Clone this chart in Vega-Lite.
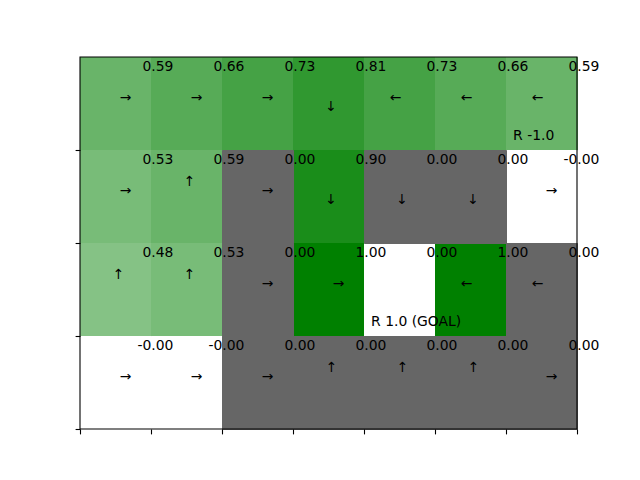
{
  "$schema": "https://vega.github.io/schema/vega-lite/v6.json",
  "width": 497,
  "height": 372,
  "autosize": {"type": "none"},
  "padding": {"left": 80, "top": 57, "right": 63, "bottom": 51},
  "background": "white",
  "config": {"view": {"stroke": null}, "font": "DejaVu Sans"},
  "resolve": {"axis": {"x": "independent", "y": "independent"}},
  "datasets": {
    "cells": [
      {"row": 0, "col": 0, "value": 0.59, "label": "0.59", "kind": "open", "arrow": "→"},
      {"row": 0, "col": 1, "value": 0.66, "label": "0.66", "kind": "open", "arrow": "→"},
      {"row": 0, "col": 2, "value": 0.73, "label": "0.73", "kind": "open", "arrow": "→"},
      {"row": 0, "col": 3, "value": 0.81, "label": "0.81", "kind": "open", "arrow": "↓"},
      {"row": 0, "col": 4, "value": 0.73, "label": "0.73", "kind": "open", "arrow": "←"},
      {"row": 0, "col": 5, "value": 0.66, "label": "0.66", "kind": "open", "arrow": "←"},
      {"row": 0, "col": 6, "value": 0.59, "label": "0.59", "kind": "open", "arrow": "←"},
      {"row": 1, "col": 0, "value": 0.53, "label": "0.53", "kind": "open", "arrow": "→"},
      {"row": 1, "col": 1, "value": 0.59, "label": "0.59", "kind": "open", "arrow": "↑"},
      {"row": 1, "col": 2, "value": 0.0, "label": "0.00", "kind": "wall", "arrow": "→"},
      {"row": 1, "col": 3, "value": 0.9, "label": "0.90", "kind": "open", "arrow": "↓"},
      {"row": 1, "col": 4, "value": 0.0, "label": "0.00", "kind": "wall", "arrow": "↓"},
      {"row": 1, "col": 5, "value": 0.0, "label": "0.00", "kind": "wall", "arrow": "↓"},
      {"row": 1, "col": 6, "value": 0.0, "label": "-0.00", "kind": "open", "arrow": "→"},
      {"row": 2, "col": 0, "value": 0.48, "label": "0.48", "kind": "open", "arrow": "↑"},
      {"row": 2, "col": 1, "value": 0.53, "label": "0.53", "kind": "open", "arrow": "↑"},
      {"row": 2, "col": 2, "value": 0.0, "label": "0.00", "kind": "wall", "arrow": "→"},
      {"row": 2, "col": 3, "value": 1.0, "label": "1.00", "kind": "open", "arrow": "→"},
      {"row": 2, "col": 4, "value": 0.0, "label": "0.00", "kind": "open", "arrow": ""},
      {"row": 2, "col": 5, "value": 1.0, "label": "1.00", "kind": "open", "arrow": "←"},
      {"row": 2, "col": 6, "value": 0.0, "label": "0.00", "kind": "wall", "arrow": "←"},
      {"row": 3, "col": 0, "value": 0.0, "label": "-0.00", "kind": "open", "arrow": "→"},
      {"row": 3, "col": 1, "value": 0.0, "label": "-0.00", "kind": "open", "arrow": "→"},
      {"row": 3, "col": 2, "value": 0.0, "label": "0.00", "kind": "wall", "arrow": "→"},
      {"row": 3, "col": 3, "value": 0.0, "label": "0.00", "kind": "wall", "arrow": "↑"},
      {"row": 3, "col": 4, "value": 0.0, "label": "0.00", "kind": "wall", "arrow": "↑"},
      {"row": 3, "col": 5, "value": 0.0, "label": "0.00", "kind": "wall", "arrow": "↑"},
      {"row": 3, "col": 6, "value": 0.0, "label": "0.00", "kind": "wall", "arrow": "→"}
    ],
    "notes": [
      {"row": 0, "col": 6, "text": "R -1.0"},
      {"row": 2, "col": 4, "text": "R 1.0 (GOAL)"}
    ]
  },
  "layer": [
    {
      "encoding": {
        "x": {"field": "col", "type": "quantitative", "scale": {"domain": [0, 7], "nice": false, "zero": false},
          "axis": {"values": [0, 1, 2, 3, 4, 5, 6, 7], "labels": false, "grid": false, "domain": false, "title": null, "tickColor": "black", "tickSize": 4.9, "tickWidth": 1.1}},
        "y": {"field": "row", "type": "quantitative", "scale": {"domain": [0, 4], "reverse": true, "nice": false, "zero": false},
          "axis": {"values": [1, 2, 3, 4], "labels": false, "grid": false, "domain": false, "title": null, "tickColor": "black", "tickSize": 4.9, "tickWidth": 1.1}}
      },
      "layer": [
        {
          "data": {"name": "cells"},
          "transform": [{"filter": "datum.kind === 'open'"}],
          "mark": {"type": "rect", "strokeWidth": 1},
          "encoding": {
            "x": {"field": "col", "type": "quantitative", "bin": {"binned": true, "step": 1}},
            "y": {"field": "row", "type": "quantitative", "bin": {"binned": true, "step": 1}},
            "fill": {"field": "value", "type": "quantitative", "scale": {"domain": [0, 1], "range": ["#ffffff", "#008000"], "interpolate": "rgb", "clamp": true}, "legend": null},
            "stroke": {"field": "value", "type": "quantitative", "scale": {"domain": [0, 1], "range": ["#ffffff", "#008000"], "interpolate": "rgb", "clamp": true}, "legend": null}
          }
        },
        {
          "data": {"name": "cells"},
          "transform": [{"filter": "datum.kind === 'wall'"}],
          "mark": {"type": "rect", "fill": "#666666", "stroke": "#666666", "strokeWidth": 1},
          "encoding": {
            "x": {"field": "col", "type": "quantitative", "bin": {"binned": true, "step": 1}},
            "y": {"field": "row", "type": "quantitative", "bin": {"binned": true, "step": 1}}
          }
        },
        {
          "data": {"name": "cells"},
          "mark": {"type": "text", "align": "right", "baseline": "alphabetic", "dx": 93.4, "dy": 14.2, "fontSize": 13.9, "color": "black"},
          "encoding": {"text": {"field": "label"}}
        },
        {
          "data": {"name": "cells"},
          "transform": [{"filter": "datum.arrow === '→'"}],
          "mark": {"type": "text", "align": "center", "baseline": "middle", "dx": 45.5, "dy": 41, "fontSize": 13.9, "color": "black"},
          "encoding": {"text": {"field": "arrow"}}
        },
        {
          "data": {"name": "cells"},
          "transform": [{"filter": "datum.arrow === '←'"}],
          "mark": {"type": "text", "align": "center", "baseline": "middle", "dx": 31.5, "dy": 41, "fontSize": 13.9, "color": "black"},
          "encoding": {"text": {"field": "arrow"}}
        },
        {
          "data": {"name": "cells"},
          "transform": [{"filter": "datum.arrow === '↑'"}],
          "mark": {"type": "text", "align": "center", "baseline": "middle", "dx": 38.5, "dy": 31.5, "fontSize": 13.9, "color": "black"},
          "encoding": {"text": {"field": "arrow"}}
        },
        {
          "data": {"name": "cells"},
          "transform": [{"filter": "datum.arrow === '↓'"}],
          "mark": {"type": "text", "align": "center", "baseline": "middle", "dx": 38, "dy": 50, "fontSize": 13.9, "color": "black"},
          "encoding": {"text": {"field": "arrow"}}
        },
        {
          "data": {"name": "notes"},
          "mark": {"type": "text", "align": "left", "baseline": "middle", "dx": 7.1, "dy": 78.5, "fontSize": 13.9, "color": "black"},
          "encoding": {"text": {"field": "text"}}
        }
      ]
    },
    {
      "data": {"values": [{"frame": 1}]},
      "mark": {"type": "rect", "fill": "transparent", "stroke": "black", "strokeWidth": 1.1},
      "encoding": {
        "x": {"datum": 0, "type": "quantitative", "axis": null},
        "x2": {"datum": 7},
        "y": {"datum": 0, "type": "quantitative", "axis": null},
        "y2": {"datum": 4}
      }
    }
  ]
}
